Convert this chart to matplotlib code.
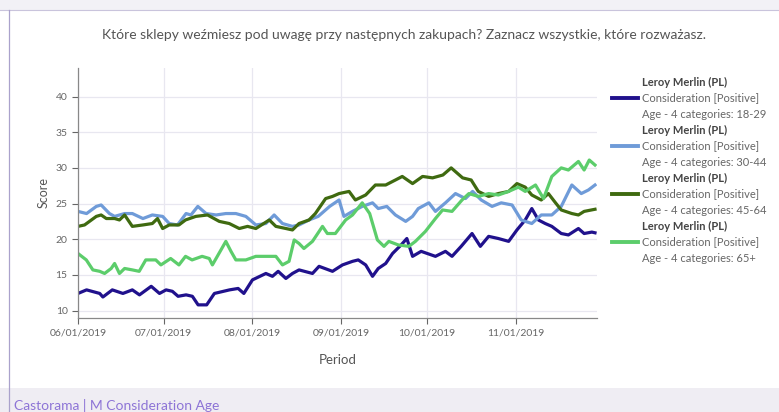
import numpy as np
import pandas as pd
import matplotlib
matplotlib.use("Agg")
import matplotlib.pyplot as plt
import matplotlib.dates as mdates
from matplotlib.lines import Line2D
from matplotlib.patches import Rectangle

plt.rcParams['font.family'] = ['Lato', 'DejaVu Sans']

title = "Które sklepy weźmiesz pod uwagę przy następnych zakupach? Zaznacz wszystkie, które rozważasz."
start = pd.Timestamp("2019-06-01")

# day offsets from 2019-06-01 and scores
days_1829 = [0, 3, 7.6, 8.7, 12, 15.7, 19, 21.5, 25.6, 28.5, 30.8, 33, 35, 37.8, 40, 42, 45, 47.7,
             53, 56, 58, 61, 65.7, 68, 70, 72.7, 75, 77.3, 82, 84.3, 89, 92.5, 96, 98, 100.6, 103,
             105, 107.6, 110, 113, 115, 117, 120, 125, 128.5, 130.8, 134, 137.8, 140.7, 143.6,
             147, 150.6, 153.5, 156.4, 158.7, 161, 163.4, 165.7, 169, 171.5, 175, 177, 179.7, 180.8]
vals_1829 = [12.4, 12.9, 12.4, 11.9, 12.9, 12.4, 12.9, 12.2, 13.4, 12.4, 12.9, 12.7, 12.0, 12.2,
             12.0, 10.8, 10.8, 12.4, 12.9, 13.1, 12.4, 14.3, 15.2, 14.8, 15.5, 14.5, 15.2, 15.7,
             15.2, 16.2, 15.5, 16.4, 16.9, 17.1, 16.4, 14.8, 15.9, 16.6, 18.0, 19.2, 20.1, 17.6,
             18.3, 17.6, 18.3, 17.6, 19.0, 20.8, 19.0, 20.4, 20.1, 19.7, 21.3, 22.7, 24.3, 22.7,
             22.2, 21.8, 20.8, 20.6, 21.5, 20.8, 21.0, 20.9]

days_3044 = [0, 3, 6.4, 8.1, 11, 12.8, 16.3, 19, 22.7, 26, 29.6, 31.9, 34.8, 37.8, 39.5, 41.9,
             44.8, 48.3, 51.7, 55.2, 58.7, 62.2, 65.7, 68.6, 71.5, 75, 77.3, 80.8, 84, 88, 91.3,
             93, 96, 99.4, 103, 105, 108, 111, 114.6, 117, 119, 122.7, 125, 128.5, 132, 135.5,
             138, 141, 144.8, 148, 151.8, 155, 158.7, 162, 165.7, 169, 172.7, 176, 178.5, 180.8]
vals_3044 = [23.9, 23.6, 24.6, 24.8, 23.6, 23.2, 23.6, 23.6, 22.9, 23.4, 23.2, 22.2, 22.0, 23.6,
             23.4, 24.6, 23.6, 23.4, 23.6, 23.6, 23.2, 22.0, 22.2, 23.4, 22.2, 21.8, 22.0, 22.7,
             23.2, 24.6, 25.5, 23.2, 23.9, 24.6, 25.1, 24.3, 24.6, 23.4, 22.5, 23.2, 24.3, 25.1,
             23.9, 25.1, 26.4, 25.7, 26.7, 25.5, 24.6, 25.1, 24.8, 22.7, 22.2, 23.4, 23.4, 24.6,
             27.6, 26.4, 26.9, 27.6]

days_4564 = [0, 2.3, 6.4, 8.1, 9.9, 12.8, 14.5, 16.3, 19, 22.7, 26, 27.8, 29.6, 31.9, 35.3, 37.6,
             41.2, 45.3, 49.4, 52.9, 56.4, 59.3, 62.2, 66.9, 69.2, 72.7, 75, 77.3, 80.8, 83, 86.6,
             89, 91.3, 94.8, 97, 100.6, 104, 107.6, 111, 113.4, 117, 120.5, 124, 127.6, 130.5,
             134.5, 137.5, 140, 143.6, 147, 150.6, 153.5, 156.4, 158.7, 162, 164.5, 167, 169,
             172.7, 175, 177, 180.8]
vals_4564 = [21.8, 22.0, 23.2, 23.4, 22.9, 22.9, 22.7, 23.4, 21.8, 22.0, 22.2, 22.9, 21.5, 22.0,
             22.0, 22.7, 23.2, 23.4, 22.5, 22.2, 21.5, 21.8, 21.5, 22.7, 21.8, 21.5, 21.3, 22.2,
             22.7, 23.6, 25.7, 26.0, 26.4, 26.7, 25.5, 26.2, 27.6, 27.6, 28.3, 28.8, 27.8, 28.8,
             28.6, 29.0, 30.0, 28.6, 28.3, 26.7, 26.0, 26.4, 26.7, 27.8, 27.3, 26.2, 25.5, 26.4,
             25.1, 24.1, 23.6, 23.4, 23.9, 24.2]

days_65 = [0, 2.9, 5.2, 7.6, 9.3, 11.6, 12.8, 14.5, 16.3, 19, 21.4, 23.7, 27.2, 29, 32.4, 35.3,
           37.6, 39.9, 43.4, 45.9, 47, 50, 51.7, 53.5, 55.2, 58.7, 62.2, 65.7, 69.2, 71.5, 73.8,
           75.6, 77.3, 79, 82, 85.5, 87.2, 90, 93.6, 96, 99.4, 102, 104.7, 107, 108.7, 112, 115.7,
           118, 121.5, 125, 127.5, 130.8, 134.3, 136.7, 140, 143.6, 147, 150.6, 154, 156.4, 160,
           162.8, 165.7, 169, 171.5, 175, 177, 178.8, 180.8]
vals_65 = [18.0, 17.1, 15.7, 15.5, 15.2, 15.9, 16.6, 15.2, 15.9, 15.7, 15.5, 17.1, 17.1, 16.4,
           17.3, 16.4, 17.6, 17.1, 17.6, 17.3, 16.4, 18.5, 19.7, 18.3, 17.1, 17.1, 17.6, 17.6,
           17.6, 16.4, 16.9, 19.9, 19.4, 18.7, 19.7, 21.8, 20.8, 20.8, 22.7, 23.4, 25.1, 23.6,
           19.9, 19.0, 19.7, 19.2, 19.0, 19.7, 21.1, 22.9, 24.1, 23.9, 25.5, 26.4, 26.0, 26.4,
           26.2, 26.7, 27.3, 26.7, 27.6, 25.7, 28.8, 30.0, 29.7, 30.9, 29.7, 31.1, 30.4]

series = [
    ("18-29", days_1829, vals_1829, "#20118c"),
    ("30-44", days_3044, vals_3044, "#6f9bd8"),
    ("45-64", days_4564, vals_4564, "#3f6a10"),
    ("65+", days_65, vals_65, "#5ccd6b"),
]

month_ticks = pd.to_datetime(["2019-06-01", "2019-07-01", "2019-08-01",
                              "2019-09-01", "2019-10-01", "2019-11-01"])

fig = plt.figure(figsize=(7.79, 4.12), dpi=100)
fig.patch.set_facecolor("white")

# page frame: top band, bottom band, left border
fig.add_artist(Rectangle((0, 1 - 10 / 412), 1, 10 / 412, transform=fig.transFigure,
                         facecolor="#f2f1f6", edgecolor="none"))
fig.add_artist(Rectangle((0, 0), 1, 24 / 412, transform=fig.transFigure,
                         facecolor="#efedf3", edgecolor="none"))
fig.add_artist(Line2D([0, 1], [1 - 10 / 412] * 2, transform=fig.transFigure,
                      color="#c9c4dc", lw=0.8))
fig.add_artist(Line2D([8.5 / 779] * 2, [0, 1 - 10 / 412], transform=fig.transFigure,
                      color="#aaa2cc", lw=0.9))

fig.text(404 / 779, 1 - 35 / 412, title, ha="center", va="center", fontsize=10, color="#555555")
fig.text(14 / 779, 1 - 405 / 412, "Castorama | M Consideration Age", ha="left", va="center",
         fontsize=10, color="#8d74d6")

ax = fig.add_axes([78 / 779, 1 - 317.7 / 412, (597 - 78) / 779, (317.7 - 68) / 412])
for name, d, v, c in series:
    dates = start + pd.to_timedelta(np.array(d), unit="D")
    ax.plot(dates, v, color=c, lw=2.3, solid_joinstyle="round")

ax.set_ylim(9, 44)
ax.set_xlim(start, start + pd.Timedelta(days=181.5))
ax.set_yticks([10, 15, 20, 25, 30, 35, 40])
ax.set_xticks(month_ticks)
ax.xaxis.set_major_formatter(mdates.DateFormatter("%m/%d/%Y"))
ax.tick_params(axis="both", labelsize=7.5, colors="#666666", length=4, width=0.8)
ax.grid(True, color="#e8e7f0", lw=0.9)
ax.set_axisbelow(True)
for s in ["top", "right"]:
    ax.spines[s].set_visible(False)
for s in ["left", "bottom"]:
    ax.spines[s].set_color("#888888")
    ax.spines[s].set_linewidth(0.9)
ax.set_ylabel("Score", fontsize=9, color="#555555", labelpad=4)
ax.set_xlabel("Period", fontsize=9.5, color="#555555", labelpad=12)

# legend on the right
for i, (name, d, v, c) in enumerate(series):
    y0 = 82 + i * 48
    fig.text(642 / 779, 1 - y0 / 412, "Leroy Merlin (PL)", fontsize=8, fontweight="bold",
             color="#444444", va="center")
    fig.text(642 / 779, 1 - (y0 + 16) / 412, "Consideration [Positive]", fontsize=8,
             color="#666666", va="center")
    fig.text(642 / 779, 1 - (y0 + 32) / 412, "Age - 4 categories: " + name, fontsize=8,
             color="#666666", va="center")
    fig.add_artist(Line2D([612 / 779, 638 / 779], [1 - (y0 + 16) / 412] * 2,
                          transform=fig.transFigure, color=c, lw=2.8))

fig.savefig("out.png", dpi=100)
